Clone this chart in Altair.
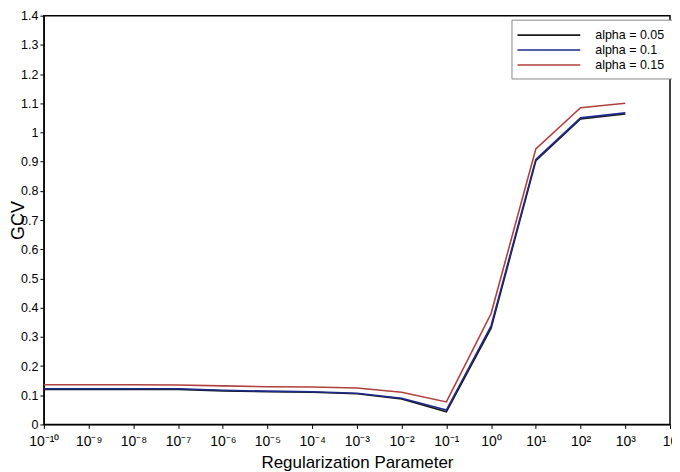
import altair as alt
import pandas as pd

exponents = [-10, -9, -8, -7, -6, -5, -4, -3, -2, -1, 0, 1, 2, 3]
gcv_a005 = [0.120, 0.120, 0.120, 0.120, 0.115, 0.112, 0.110, 0.105, 0.087, 0.043, 0.330, 0.903, 1.046, 1.063]
gcv_a010 = [0.122, 0.122, 0.122, 0.122, 0.117, 0.114, 0.112, 0.107, 0.090, 0.049, 0.338, 0.908, 1.050, 1.067]
gcv_a015 = [0.136, 0.136, 0.136, 0.135, 0.132, 0.129, 0.128, 0.125, 0.110, 0.077, 0.380, 0.944, 1.085, 1.100]
series_names = ["alpha = 0.05", "alpha = 0.1", "alpha = 0.15"]
series_colors = ["#1a1a1a", "#1c2a8c", "#b0403f"]
x_tick_exps = list(range(-10, 5))
x_tick_labels = ["10⁻¹⁰", "10⁻⁹", "10⁻⁸", "10⁻⁷", "10⁻⁶", "10⁻⁵", "10⁻⁴", "10⁻³",
                 "10⁻²", "10⁻¹", "10⁰", "10¹", "10²", "10³", "10"]
y_ticks = [round(i * 0.1, 1) for i in range(15)]

rows = []
for name, vals in zip(series_names, [gcv_a005, gcv_a010, gcv_a015]):
    for e, v in zip(exponents, vals):
        rows.append({"lam": 10.0 ** e, "gcv": v, "series": name})
df = pd.DataFrame(rows)

label_expr = "[" + ",".join("'" + s + "'" for s in x_tick_labels) + "][round(log(datum.value)/LN10)+10]"

FONT = "Liberation Sans"

chart = alt.Chart(df).mark_line(strokeWidth=1.6).encode(
    x=alt.X("lam:Q",
            scale=alt.Scale(type="log", domain=[1e-10, 1e4], nice=False),
            axis=alt.Axis(title="Regularization Parameter", values=[10.0 ** e for e in x_tick_exps],
                          labelExpr=label_expr, grid=False, tickSize=4, labelFontSize=14,
                          titleFontSize=17, titleFontWeight="normal", labelPadding=6,
                          titleY=38, titleBaseline="middle", labelFlush=False)),
    y=alt.Y("gcv:Q",
            scale=alt.Scale(domain=[0, 1.4], nice=False),
            axis=alt.Axis(title="GCV", values=y_ticks, labelExpr="format(datum.value, '~g')",
                          grid=False, tickSize=4, labelFontSize=12.5, titleFontSize=18,
                          titleFontWeight="normal", titleX=-25, titleY=205,
                          titleBaseline="middle", titleAlign="center", titleAngle=-90,
                          labelPadding=2)),
    color=alt.Color("series:N",
                    scale=alt.Scale(domain=series_names, range=series_colors),
                    legend=alt.Legend(title=None, orient="none", legendX=469, legendY=4,
                                      symbolType="M-4.2,0H4.2", symbolSize=225,
                                      symbolStrokeWidth=1.6, symbolOffset=22,
                                      labelFontSize=12.5, strokeColor="#888888", padding=7,
                                      fillColor="white", rowPadding=0, labelOffset=38)),
    order=alt.Order("series:N"),
).properties(
    width=628, height=410,
    autosize=alt.AutoSizeParams(type="none"),
    padding={"left": 36, "top": 7, "right": 2, "bottom": 46},
).configure_view(
    stroke="black", strokeWidth=1.5
).configure_axis(
    domainColor="black", tickColor="black", labelColor="black", titleColor="black",
    labelFont=FONT, titleFont=FONT
).configure_legend(
    labelFont=FONT, labelColor="black"
)

chart.save("out.html", embed_options={"renderer": "svg", "actions": False})
